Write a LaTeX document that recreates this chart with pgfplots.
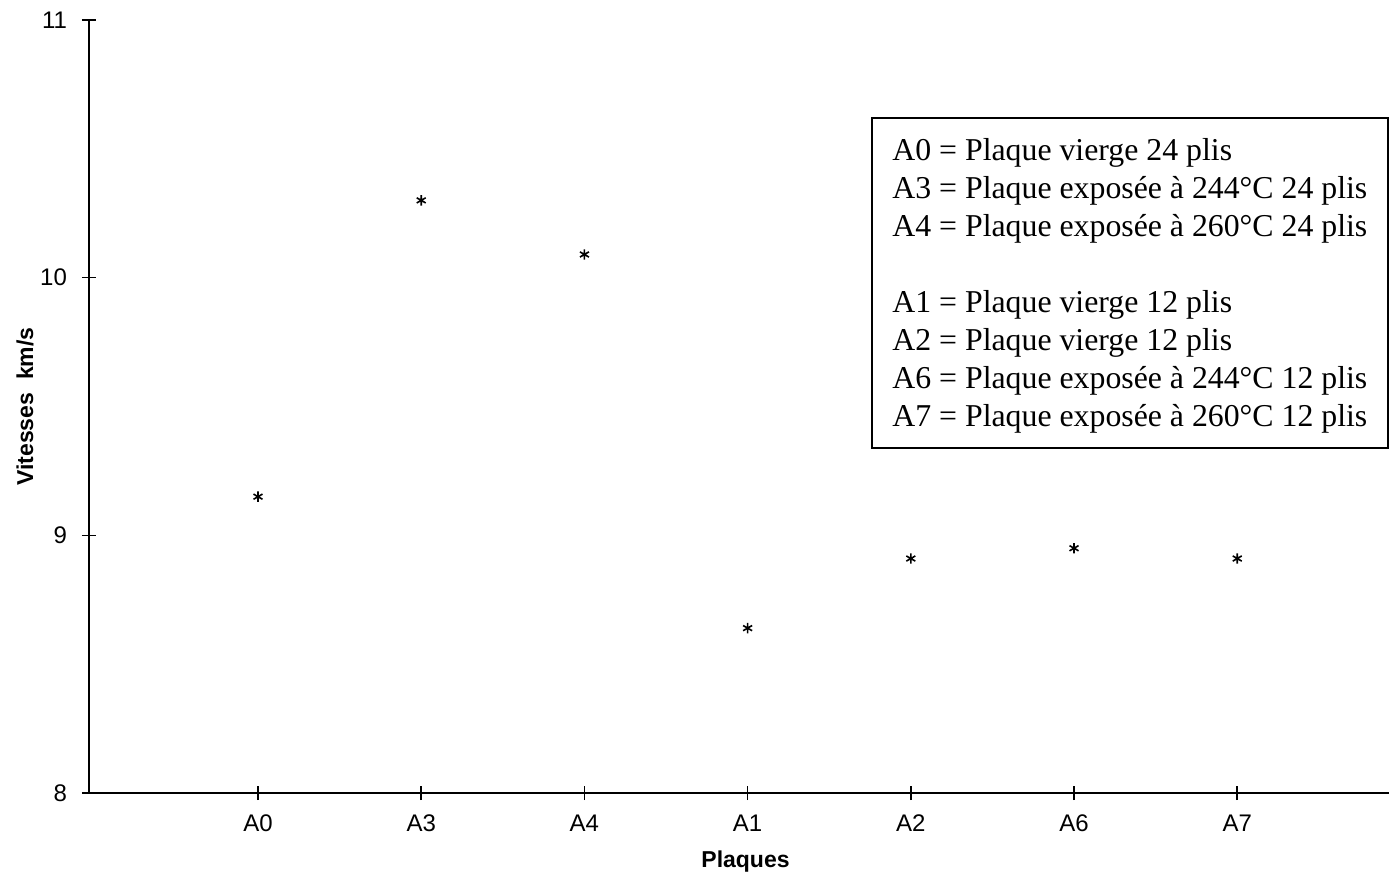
\documentclass[border=0pt]{standalone}
\usepackage{fontspec}
\setmainfont{Liberation Sans}
\newfontfamily\legfont{Liberation Serif}
\usepackage{pgfplots}
\pgfplotsset{compat=1.18}
\begin{document}
\begin{tikzpicture}
\path[use as bounding box] (-44.5pt,-43.5pt) rectangle (650.5pt,396.5pt);
\begin{axis}[
  at={(0pt,0pt)}, anchor=south west,
  scale only axis, width=650pt, height=386.5pt,
  xmin=-0.0355, xmax=7.93, ymin=8, ymax=11,
  axis lines=left, axis line style={-, line width=1pt},
  tick align=center, major tick length=7pt,
  tick style={black, line width=0.8pt},
  xtick={1,2,3,4,5,6,7},
  xticklabels={A0,A3,A4,A1,A2,A6,A7},
  ytick={8,9,10,11},
  tick label style={font=\fontsize{12}{14}\selectfont},
  /pgf/number format/assume math mode=true,
  xticklabel style={yshift=-4pt},
  yticklabel style={xshift=-4pt},
  every axis y label/.style={at={(axis description cs:0,0.5)}, xshift=-32pt, rotate=90, anchor=center},
  every axis x label/.style={at={(axis description cs:0.505,0)}, yshift=-34.5pt, anchor=center},
  xlabel={Plaques}, ylabel={Vitesses\ \ km/s},
  label style={font=\fontsize{11.5}{14}\selectfont\bfseries},
  clip=false,
]
\addplot[only marks, mark=asterisk, mark size=2.6pt, black, mark options={line width=0.8pt}] coordinates {
  (1,9.15) (2,10.30) (3,10.09) (4,8.64) (5,8.91) (6,8.95) (7,8.91)
};
\end{axis}
\draw[line width=1pt] (391.5pt,172.5pt) rectangle (649.5pt,337.5pt);
\begin{scope}[every node/.style={anchor=base west, inner sep=0pt, font=\legfont\fontsize{15.9}{18}\selectfont}]
\node at (401.5pt,316.5pt) {A0 = Plaque vierge 24 plis};
\node at (401.5pt,297.5pt) {A3 = Plaque exposée à 244°C 24 plis};
\node at (401.5pt,278.5pt) {A4 = Plaque exposée à 260°C 24 plis};
\node at (401.5pt,240.5pt) {A1 = Plaque vierge 12 plis};
\node at (401.5pt,221.5pt) {A2 = Plaque vierge 12 plis};
\node at (401.5pt,202.5pt) {A6 = Plaque exposée à 244°C 12 plis};
\node at (401.5pt,183.5pt) {A7 = Plaque exposée à 260°C 12 plis};
\end{scope}
\end{tikzpicture}
\end{document}
